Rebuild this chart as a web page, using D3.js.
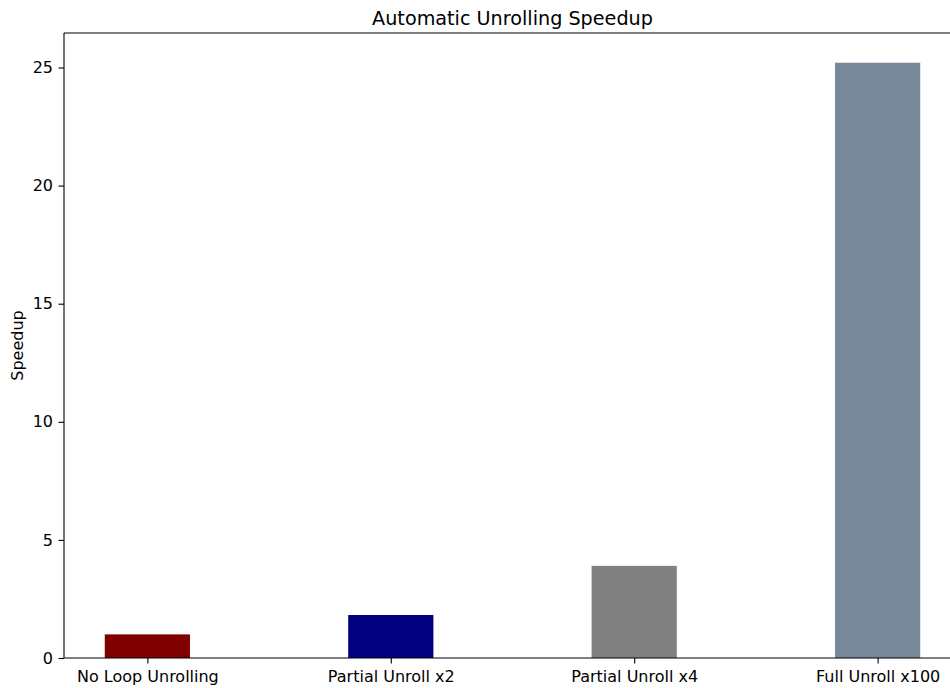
<!DOCTYPE html>
<html>
<head>
<meta charset="utf-8">
<script src="https://cdn.jsdelivr.net/npm/d3@7"></script>
<style>
  html, body { margin: 0; padding: 0; background: #fff; }
  svg { display: block; font-family: "DejaVu Sans", sans-serif; }
</style>
</head>
<body>
<svg id="chart" width="950" height="688"></svg>
<script>
// Speedup of each unrolling strategy, relative to the baseline
const categories = ["No Loop Unrolling", "Partial Unroll x2", "Partial Unroll x4", "Full Unroll x100"];
const speedups = [1.0, 1.82, 3.9, 25.2];
const barColors = ["#800000", "#000080", "#808080", "#778899"];
const yTicks = [0, 5, 10, 15, 20, 25];

const svg = d3.select("#chart");
const margin = { left: 64, top: 33, right: 961, bottom: 658 };

// Bars sit at integer positions 0..n-1 with width 0.35 and 5% padding
const n = categories.length;
const barWidth = 0.35;
const lo = -barWidth / 2, hi = (n - 1) + barWidth / 2;
const pad = (hi - lo) * 0.05;
const x = d3.scaleLinear().domain([lo - pad, hi + pad]).range([margin.left, margin.right]);
const yMax = d3.max(speedups) * 1.05;
const y = d3.scaleLinear().domain([0, yMax]).range([margin.bottom, margin.top]);

// Bars
svg.append("g").selectAll("rect")
  .data(speedups)
  .join("rect")
  .attr("x", (d, i) => x(i - barWidth / 2))
  .attr("width", (d, i) => x(i + barWidth / 2) - x(i - barWidth / 2))
  .attr("y", d => y(d))
  .attr("height", d => y(0) - y(d))
  .attr("fill", (d, i) => barColors[i]);

// Axes
const xAxis = d3.axisBottom(x)
  .tickValues(d3.range(n))
  .tickFormat(i => categories[i])
  .tickSizeOuter(0)
  .tickSizeInner(5.5)
  .tickPadding(7);
const yAxis = d3.axisLeft(y)
  .tickValues(yTicks)
  .tickFormat(d3.format("d"))
  .tickSizeOuter(0)
  .tickSizeInner(5.5)
  .tickPadding(5.5);

const gx = svg.append("g").attr("transform", `translate(0,${margin.bottom})`).call(xAxis);
const gy = svg.append("g").attr("transform", `translate(${margin.left},0)`).call(yAxis);
[gx, gy].forEach(g => {
  g.select(".domain").remove();
  g.selectAll(".tick line").attr("stroke", "#000").attr("stroke-width", 1.1);
  g.selectAll(".tick text").attr("fill", "#000").style("font-size", "16px").style("font-family", "DejaVu Sans, sans-serif");
});

// Spines
const spines = svg.append("g").attr("fill", "none").attr("stroke", "#000").attr("stroke-width", 1.1);
spines.append("line").attr("x1", margin.left).attr("x2", margin.right).attr("y1", margin.top).attr("y2", margin.top);
spines.append("line").attr("x1", margin.left).attr("x2", margin.right).attr("y1", margin.bottom).attr("y2", margin.bottom);
spines.append("line").attr("x1", margin.left).attr("x2", margin.left).attr("y1", margin.top).attr("y2", margin.bottom);
spines.append("line").attr("x1", margin.right).attr("x2", margin.right).attr("y1", margin.top).attr("y2", margin.bottom);

// Title
svg.append("text")
  .attr("x", (margin.left + margin.right) / 2)
  .attr("y", 25)
  .attr("text-anchor", "middle")
  .style("font-size", "19.2px")
  .text("Automatic Unrolling Speedup");

// Y label
svg.append("text")
  .attr("transform", `translate(23,${(margin.top + margin.bottom) / 2}) rotate(-90)`)
  .attr("text-anchor", "middle")
  .style("font-size", "16px")
  .text("Speedup");
</script>
</body>
</html>
